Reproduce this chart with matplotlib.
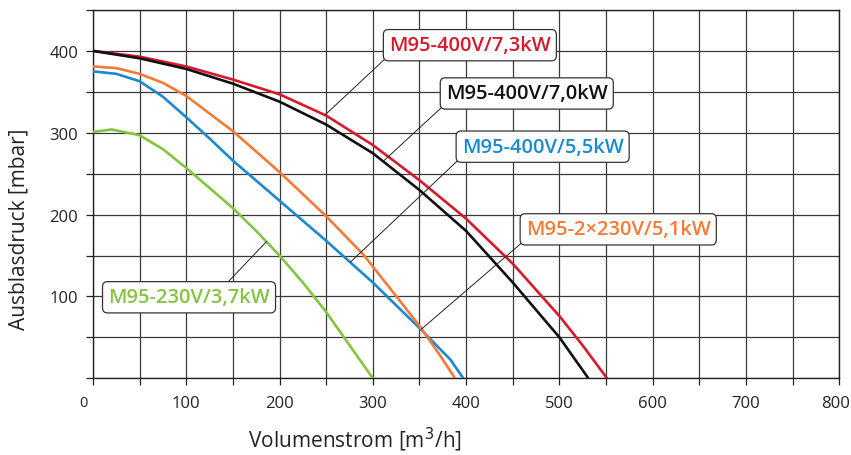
import numpy as np
import matplotlib
matplotlib.use("Agg")
import matplotlib.pyplot as plt
import matplotlib.transforms as mtransforms
from matplotlib.ticker import MultipleLocator

plt.rcParams['font.family'] = ['Open Sans', 'DejaVu Sans']

# curves (Volumenstrom m3/h, Ausblasdruck mbar)
red_x = [0, 50, 100, 150, 200, 250, 300, 350, 400, 450, 500, 525, 551]
red_y = [400, 393, 381, 365, 347, 321, 285, 242, 195, 140, 76, 40, 0]

black_x = [0, 50, 100, 150, 200, 250, 300, 350, 400, 450, 500, 531]
black_y = [400, 391, 378, 360, 338, 310, 275, 230, 180, 117, 50, 0]

orange_x = [0, 25, 50, 75, 100, 150, 200, 250, 290, 326, 352, 372, 388]
orange_y = [381, 379, 372, 361, 345, 302, 252, 198, 151, 99, 61, 28, 0]

blue_x = [0, 25, 50, 75, 100, 125, 150, 200, 250, 300, 353, 383, 397]
blue_y = [375, 372, 363, 344, 319, 293, 266, 217, 168, 117, 58, 23, 0]

green_x = [0, 20, 50, 75, 100, 150, 175, 200, 225, 250, 300]
green_y = [301, 304, 297, 280, 257, 208, 180, 150, 117, 81, 0]

labels = ["M95-400V/7,3kW", "M95-400V/7,0kW", "M95-400V/5,5kW",
          "M95-2\u00d7230V/5,1kW", "M95-230V/3,7kW"]
colors = ["#d7192d", "#111111", "#1a8ad0", "#f47a36", "#85c441"]
# leader line end on the curve, and label box centre
label_xy = [(249, 322), (311, 265), (276, 142), (352, 60), (186, 167)]
label_txt = [(404, 407), (465, 348), (482, 283), (563, 182), (103, 99)]
label_rel = [(0, 0), (0, 0), (0, 0), (0, 0), (0.71, 1)]

fig = plt.figure(figsize=(8.51, 4.56), dpi=100)
ax = fig.add_axes([0.1092, 0.1682, 0.8771, 0.8077])

curves = [(red_x, red_y), (black_x, black_y), (blue_x, blue_y),
          (orange_x, orange_y), (green_x, green_y)]
curve_colors = [colors[0], colors[1], colors[2], colors[3], colors[4]]
for (cx, cy), c in zip(curves, curve_colors):
    ax.plot(cx, cy, color=c, lw=1.9, solid_capstyle='butt',
            solid_joinstyle='round', zorder=3)

ax.set_xlim(0, 800)
ax.set_ylim(0, 450)
ax.set_xticks(np.arange(0, 801, 100))
ax.xaxis.set_minor_locator(MultipleLocator(50))
ax.set_yticks([100, 200, 300, 400])
ax.yaxis.set_minor_locator(MultipleLocator(50))
ax.grid(which='both', color='#3a3a3a', lw=0.9)
ax.set_axisbelow(True)
ax.tick_params(which='both', direction='out', length=5, width=0.9,
               color='#222222', labelsize=12, labelcolor='#222222')
ax.tick_params(axis='x', pad=7)
ax.tick_params(axis='y', pad=5.5)
for s in ax.spines.values():
    s.set_color('#222222')
    s.set_linewidth(1.0)

# the "0" on the x axis is smaller and sits a bit to the left,
# the "800" is pulled in so it stays inside the picture
xlabels = ax.get_xticklabels()
zero = xlabels[0]
zero.set_fontsize(10.5)
zero.set_transform(zero.get_transform() +
                   mtransforms.ScaledTranslation(-0.09, 0, fig.dpi_scale_trans))
last = xlabels[-1]
last.set_transform(last.get_transform() +
                   mtransforms.ScaledTranslation(-0.035, 0, fig.dpi_scale_trans))

for txt, c, xy, xt, rel in zip(labels, colors, label_xy, label_txt, label_rel):
    ax.annotate(txt, xy=xy, xytext=xt, ha='center', va='center',
                fontsize=14.5, fontweight='semibold', color=c, zorder=5,
                bbox=dict(boxstyle='round,pad=0.28,rounding_size=0.25',
                          fc='white', ec='#333333', lw=0.9),
                arrowprops=dict(arrowstyle='-', color='#222222', lw=0.7,
                                relpos=rel, shrinkA=0, shrinkB=0))

fig.text(0.417, 0.035, "Volumenstrom [m$^3$/h]", ha='center', va='center',
         fontsize=15, color='#222222')
fig.text(0.022, 0.497, "Ausblasdruck [mbar]", ha='center', va='center',
         rotation=90, fontsize=15, color='#222222')

fig.savefig("out.png", dpi=100)
